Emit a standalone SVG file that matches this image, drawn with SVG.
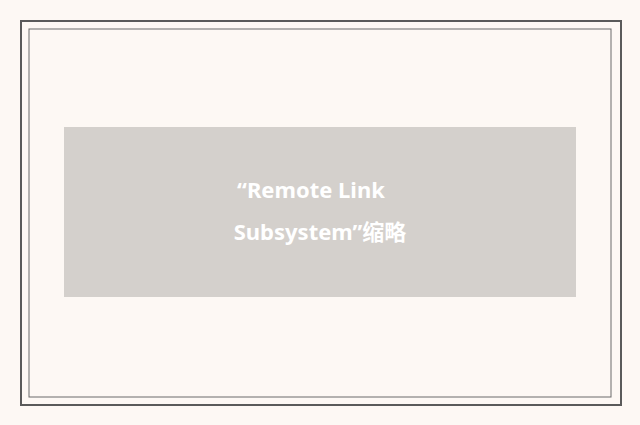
<svg xmlns="http://www.w3.org/2000/svg" width="640" height="425" viewBox="0 0 640 425">
<style>
.t{font-family:"Noto Sans","Noto Sans CJK SC",sans-serif;font-weight:bold;font-size:22px;fill:#ffffff;text-anchor:middle}
</style>
<rect width="640" height="425" fill="#fdf8f4"/>
<rect x="21" y="21" width="600" height="384" fill="none" stroke="#5a5a5a" stroke-width="2"/>
<rect x="29" y="29" width="582" height="368" fill="none" stroke="#6a6a6a" stroke-width="1"/>
<g id="node1">
<rect x="64" y="127" width="512" height="170" fill="#d4d0cc"/>
<text class="t" x="311" y="198">“Remote Link</text>
<text class="t" x="320" y="240">Subsystem”缩略</text>
</g>
<g id="connectors"/>
</svg>
